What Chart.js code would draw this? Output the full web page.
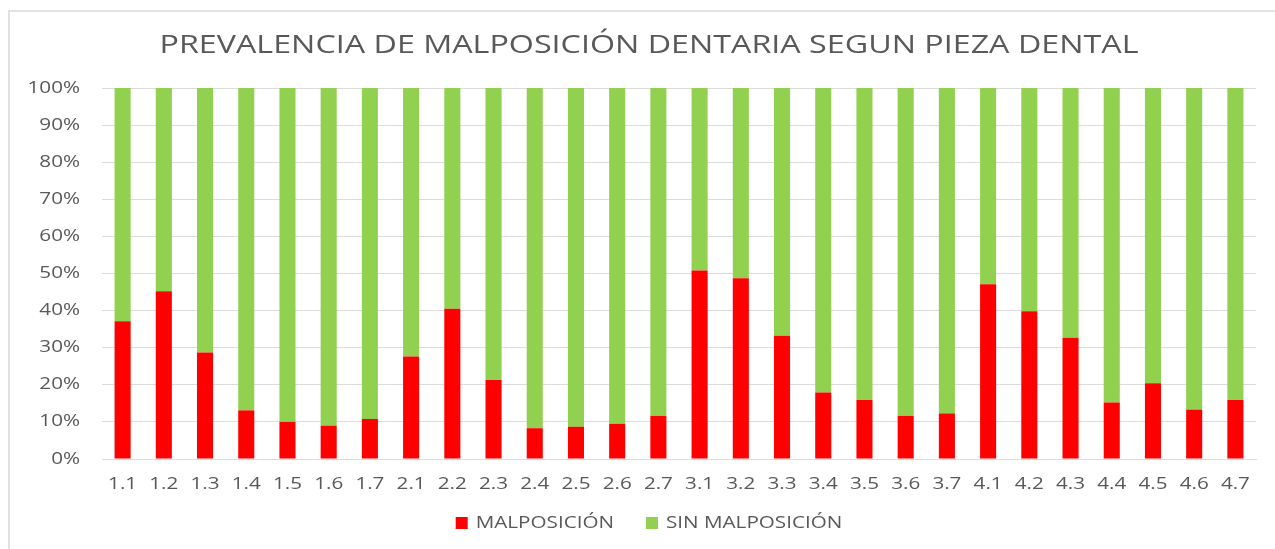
<!DOCTYPE html>
<html>
<head>
<meta charset="utf-8">
<script src="https://cdn.jsdelivr.net/npm/chart.js@4"></script>
<style>
  html, body { margin: 0; padding: 0; background: #ffffff; }
  #wrap { width: 1275px; height: 549px; position: relative; }
</style>
</head>
<body>
<div id="wrap"><canvas id="chart" width="1275" height="549"></canvas></div>
<script>
const piezas = ['1.1', '1.2', '1.3', '1.4', '1.5', '1.6', '1.7',
                '2.1', '2.2', '2.3', '2.4', '2.5', '2.6', '2.7',
                '3.1', '3.2', '3.3', '3.4', '3.5', '3.6', '3.7',
                '4.1', '4.2', '4.3', '4.4', '4.5', '4.6', '4.7'];

const malposicion = [37.1, 45.2, 28.7, 13.1, 10.0, 9.0, 10.8,
                     27.6, 40.5, 21.3, 8.3, 8.7, 9.5, 11.6,
                     50.8, 48.7, 33.2, 17.9, 15.9, 11.6, 12.3,
                     47.1, 39.8, 32.7, 15.2, 20.4, 13.3, 15.9];

const sinMalposicion = [62.9, 54.8, 71.3, 86.9, 90.0, 91.0, 89.2,
                        72.4, 59.5, 78.7, 91.7, 91.3, 90.5, 88.4,
                        49.2, 51.3, 66.8, 82.1, 84.1, 88.4, 87.7,
                        52.9, 60.2, 67.3, 84.8, 79.6, 86.7, 84.1];

const yTicks = [0, 10, 20, 30, 40, 50, 60, 70, 80, 90, 100];

const textColor = '#595959';
const gridColor = '#dcdcdc';
const fuente = 'Open Sans';

// el original está estirado a lo ancho: el texto se escala en horizontal
const SX = 1.29;
const ctx = document.getElementById('chart').getContext('2d');
const protoFill = CanvasRenderingContext2D.prototype.fillText;
const protoMeasure = CanvasRenderingContext2D.prototype.measureText;
ctx.fillText = function (text, x, y, maxWidth) {
    this.save();
    this.translate(x, y);
    this.scale(SX, 1);
    if (maxWidth !== undefined) protoFill.call(this, text, 0, 0, maxWidth / SX);
    else protoFill.call(this, text, 0, 0);
    this.restore();
};
ctx.measureText = function (text) {
    const m = protoMeasure.call(this, text);
    return {
        width: m.width * SX,
        actualBoundingBoxAscent: m.actualBoundingBoxAscent,
        actualBoundingBoxDescent: m.actualBoundingBoxDescent,
        actualBoundingBoxLeft: m.actualBoundingBoxLeft * SX,
        actualBoundingBoxRight: m.actualBoundingBoxRight * SX
    };
};

// fondo blanco + bordes superior e izquierdo del marco
const marco = {
    id: 'marco',
    beforeDraw(chart) {
        const c = chart.ctx;
        c.save();
        c.fillStyle = '#ffffff';
        c.fillRect(0, 0, chart.width, chart.height);
        c.strokeStyle = '#d9d9d9';
        c.lineWidth = 1.5;
        c.beginPath();
        c.moveTo(9, chart.height);
        c.lineTo(9, 11);
        c.lineTo(chart.width, 11);
        c.stroke();
        c.restore();
    }
};

// sin recorte de etiquetas a la caja del eje
const sinRecorte = scale => { scale._computeLabelArea = () => undefined; };

const chart = new Chart(ctx, {
    type: 'bar',
    data: {
        labels: piezas,
        datasets: [
            {
                label: 'MALPOSICIÓN',
                data: malposicion,
                backgroundColor: '#ff0000',
                barPercentage: 0.39,
                categoryPercentage: 1
            },
            {
                label: 'SIN MALPOSICIÓN',
                data: sinMalposicion,
                backgroundColor: '#92d050',
                barPercentage: 0.39,
                categoryPercentage: 1
            }
        ]
    },
    options: {
        responsive: false,
        animation: false,
        layout: { padding: { left: 42, right: 19, top: 0, bottom: 8 } },
        plugins: {
            title: {
                display: true,
                text: 'PREVALENCIA DE MALPOSICIÓN DENTARIA SEGUN PIEZA DENTAL',
                color: textColor,
                font: { family: fuente, size: 25, weight: 'normal' },
                padding: { top: 31, bottom: 27 }
            },
            legend: {
                position: 'bottom',
                labels: {
                    color: textColor,
                    font: { family: fuente, size: 16 },
                    boxWidth: 12,
                    boxHeight: 12,
                    padding: 32
                }
            },
            tooltip: { enabled: false }
        },
        scales: {
            x: {
                stacked: true,
                afterFit(scale) { scale.height = 24; sinRecorte(scale); },
                grid: { display: false, drawTicks: false },
                border: { display: true, color: gridColor },
                ticks: {
                    color: textColor,
                    font: { family: fuente, size: 16 },
                    padding: 16,
                    maxRotation: 0,
                    autoSkip: false
                }
            },
            y: {
                stacked: true,
                min: 0,
                max: 100,
                afterFit(scale) { scale.width = 60; sinRecorte(scale); },
                afterBuildTicks(scale) { scale.ticks = yTicks.map(v => ({ value: v })); },
                grid: { color: gridColor, drawTicks: false },
                border: { display: false },
                ticks: {
                    color: textColor,
                    font: { family: fuente, size: 16 },
                    padding: 22,
                    callback: v => v + '%'
                }
            }
        }
    },
    plugins: [marco]
});
</script>
</body>
</html>
